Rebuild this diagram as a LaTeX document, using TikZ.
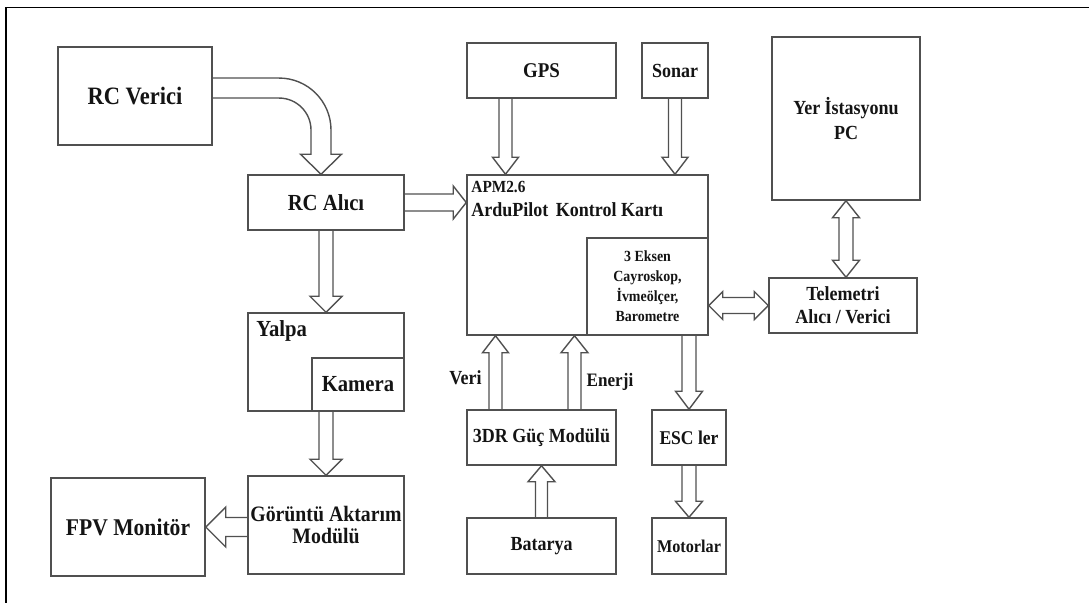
\documentclass[tikz,border=0pt]{standalone}
\usepackage{fontspec}
\setmainfont[FakeStretch=0.9]{Liberation Serif}
\usetikzlibrary{
    calc,
    positioning
}

\definecolor{linegray}{RGB}{80,80,80}
\definecolor{textdark}{RGB}{20,20,20}

% hollow block arrows
\pgfkeys{
    /blockarrow/.cd,
    shaft/.initial=7pt,
    head/.initial=13.5pt,
    headlen/.initial=17pt
}

\newcommand{\blockarrow}[3][]{%
    \begingroup
    \pgfkeys{/blockarrow/.cd,#1}%
    \edef\sw{\pgfkeysvalueof{/blockarrow/shaft}}%
    \edef\hw{\pgfkeysvalueof{/blockarrow/head}}%
    \edef\hl{\pgfkeysvalueof{/blockarrow/headlen}}%
    \path[arrowline]
        let \p1=(#2), \p2=(#3),
            \n1={atan2(\y2-\y1,\x2-\x1)},
            \n2={veclen(\x2-\x1,\y2-\y1)}
        in [shift={(\p1)}, rotate=\n1]
        (0pt,-\sw) -- ({\n2-\hl},-\sw) -- ({\n2-\hl},-\hw)
        -- ({\n2*1pt},0pt)
        -- ({\n2-\hl},\hw) -- ({\n2-\hl},\sw) -- (0pt,\sw);
    \endgroup}

\newcommand{\dblockarrow}[3][]{%
    \begingroup
    \pgfkeys{/blockarrow/.cd,#1}%
    \edef\sw{\pgfkeysvalueof{/blockarrow/shaft}}%
    \edef\hw{\pgfkeysvalueof{/blockarrow/head}}%
    \edef\hl{\pgfkeysvalueof{/blockarrow/headlen}}%
    \path[arrowline]
        let \p1=(#2), \p2=(#3),
            \n1={atan2(\y2-\y1,\x2-\x1)},
            \n2={veclen(\x2-\x1,\y2-\y1)}
        in [shift={(\p1)}, rotate=\n1]
        (\hl,-\sw) -- ({\n2-\hl},-\sw) -- ({\n2-\hl},-\hw)
        -- ({\n2*1pt},0pt)
        -- ({\n2-\hl},\hw) -- ({\n2-\hl},\sw) -- (\hl,\sw)
        -- (\hl,\hw) -- (0pt,0pt) -- (\hl,-\hw) -- cycle;
    \endgroup}

\begin{document}
\begin{tikzpicture}[
    x=1pt,
    y=-1pt,
    every node/.style={
        text=textdark
    },
    box/.style={
        draw=linegray,
        line width=1.5pt,
        inner sep=0pt,
        align=center
    },
    arrowline/.style={
        draw=linegray,
        line width=1.4pt,
        line join=miter
    }
]

    \useasboundingbox (0,0) rectangle (1089,603);

    % Frame
    \draw[line width=1.4pt]
        (1089,7.5) -- (6,7.5) -- (6,603);

    % Left column
    \node[
        box,
        minimum width=154pt,
        minimum height=98pt,
        font=\bfseries\fontsize{25pt}{29pt}\selectfont
    ] (rcverici) at (135,96) {RC Verici};

    \node[
        box,
        minimum width=156pt,
        minimum height=55pt,
        font=\bfseries\fontsize{23pt}{27pt}\selectfont
    ] (rcalici) at (326,202.5) {RC Alıcı};

    \node[
        box,
        minimum width=156pt,
        minimum height=98pt
    ] (yalpa) at (326,362) {};

    \node[
        anchor=north west,
        inner sep=0pt,
        font=\bfseries\fontsize{23pt}{27pt}\selectfont
    ] (yalpatxt) at ($(yalpa.north west)+(9,8)$) {Yalpa};

    \node[
        box,
        minimum width=92pt,
        minimum height=53pt,
        font=\bfseries\fontsize{23pt}{27pt}\selectfont
    ] (kamera) at (358,384.5) {Kamera};

    \node[
        box,
        minimum width=156pt,
        minimum height=98pt,
        font=\bfseries\fontsize{22pt}{22pt}\selectfont
    ] (goruntu) at (326,525) {Görüntü Aktarım\\Modülü};

    \node[
        box,
        minimum width=154pt,
        minimum height=98pt,
        font=\bfseries\fontsize{24pt}{28pt}\selectfont
    ] (fpv) at (128,527) {FPV Monitör};

    % Middle column
    \node[
        box,
        minimum width=149pt,
        minimum height=55pt,
        font=\bfseries\fontsize{21pt}{25pt}\selectfont
    ] (gps) at (541.5,70.5) {GPS};

    \node[
        box,
        minimum width=66pt,
        minimum height=55pt,
        font=\bfseries\fontsize{20pt}{24pt}\selectfont
    ] (sonar) at (675,70.5) {Sonar};

    \node[
        box,
        minimum width=241pt,
        minimum height=160pt
    ] (apm) at (587.5,255) {};

    \node[
        anchor=north west,
        inner sep=0pt,
        align=left,
        font=\bfseries\fontsize{20pt}{24pt}\selectfont
    ] (apmtxt) at ($(apm.north west)+(5,7)$)
        {{\fontsize{17pt}{24pt}\selectfont APM2.6}\\ArduPilot\hspace{3pt} Kontrol Kartı};

    \node[
        box,
        minimum width=121pt,
        minimum height=97pt,
        font=\bfseries\fontsize{15.5pt}{20pt}\selectfont
    ] (sensor) at (647.5,286.5)
        {3 Eksen\\Cayroskop,\\İvmeölçer,\\Barometre};

    \node[
        box,
        minimum width=149pt,
        minimum height=55pt,
        font=\bfseries\fontsize{20pt}{24pt}\selectfont
    ] (guc) at (541.5,437.5) {3DR Güç Modülü};

    \node[
        box,
        minimum width=149pt,
        minimum height=56pt,
        font=\bfseries\fontsize{20pt}{24pt}\selectfont
    ] (batarya) at (541.5,546) {Batarya};

    \node[
        box,
        minimum width=74pt,
        minimum height=55pt,
        font=\bfseries\fontsize{19.5pt}{24pt}\selectfont
    ] (esc) at (689,437.5) {ESC ler};

    \node[
        box,
        minimum width=74pt,
        minimum height=56pt,
        font=\bfseries\fontsize{18pt}{22pt}\selectfont
    ] (motorlar) at (689,546) {Motorlar};

    % Right column
    \node[
        box,
        minimum width=148pt,
        minimum height=163pt,
        font=\bfseries\fontsize{20pt}{25pt}\selectfont
    ] (yer) at (846,118.5) {Yer İstasyonu\\PC};

    \node[
        box,
        minimum width=148pt,
        minimum height=55pt,
        font=\bfseries\fontsize{20pt}{23pt}\selectfont
    ] (telemetri) at (843,305.5) {Telemetri\\Alıcı / Verici};

    % Arrow labels
    \node[
        font=\bfseries\fontsize{20pt}{24pt}\selectfont
    ] (veri) at (465.5,378) {Veri};

    \node[
        font=\bfseries\fontsize{19pt}{24pt}\selectfont
    ] (enerji) at (610,382) {Enerji};

    % Connectors
    \path[arrowline]
        let \p1=($(rcverici.north east)!0.42!(rcverici.south east)$),
            \p2=([xshift=-5pt]rcalici.north)
        in
        ({\x1},{\y1+10pt}) -- ({\x2-42pt},{\y1+10pt})
        arc[start angle=90, end angle=0, radius=52pt]
        -- ({\x2+10pt},{\y2+20pt}) -- ({\x2+20.5pt},{\y2+20pt})
        -- (\p2)
        -- ({\x2-20.5pt},{\y2+20pt}) -- ({\x2-10pt},{\y2+20pt})
        -- ({\x2-10pt},{\y1-42pt})
        arc[start angle=0, end angle=90, radius=32pt]
        -- ({\x1},{\y1-10pt});

    \coordinate (gpsout) at ([xshift=-36pt]gps.south);
    \coordinate (veriout) at ([xshift=-46pt]guc.north);
    \coordinate (enerjiout) at ([xshift=33pt]guc.north);

    \blockarrow[head=16pt,headlen=16pt]{rcalici.south}{yalpa.north}
    \blockarrow[head=16pt,headlen=16pt]{yalpa.south}{goruntu.north}
    \blockarrow[shaft=9.5pt,head=20pt,headlen=20pt]{goruntu.west |- fpv.east}{fpv.east}
    \blockarrow[shaft=8.5pt,head=16.5pt,headlen=13pt]{rcalici.east}{apm.west |- rcalici.east}
    \blockarrow[shaft=6.5pt,head=13pt]{gpsout}{gpsout |- apm.north}
    \blockarrow[shaft=6.5pt,head=13pt]{sonar.south}{sonar.south |- apm.north}
    \blockarrow[shaft=6.5pt,head=13pt]{veriout}{veriout |- apm.south}
    \blockarrow[shaft=6.5pt,head=13.5pt]{enerjiout}{enerjiout |- apm.south}
    \blockarrow[shaft=6pt,head=13.5pt,headlen=16pt]{batarya.north}{guc.south}
    \blockarrow[headlen=18pt]{esc.north |- apm.south}{esc.north}
    \blockarrow[headlen=16pt]{esc.south}{motorlar.north}
    \dblockarrow{yer.south}{yer.south |- telemetri.north}
    \dblockarrow[shaft=8pt,head=14pt,headlen=14pt]{sensor.east |- telemetri.west}{telemetri.west}

\end{tikzpicture}
\end{document}
